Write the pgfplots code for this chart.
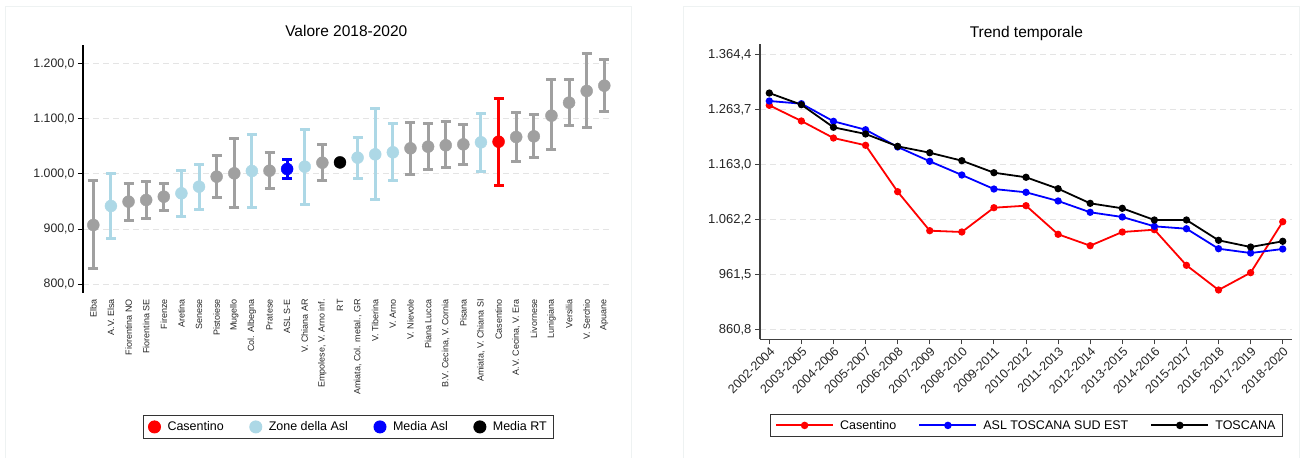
\documentclass[border=0pt]{standalone}
\usepackage{fontspec}
\setmainfont{Liberation Sans}
\usepackage{pgfplots}
\pgfplotsset{compat=1.18}
\definecolor{grp}{HTML}{A0A0A0}
\definecolor{lblue}{HTML}{ADD8E6}
\definecolor{panel}{HTML}{EEF2F2}
\definecolor{gridc}{HTML}{E4E4E4}
\pgfplotsset{every axis title shift=0pt}
\begin{document}
\begin{tikzpicture}[x=1pt,y=1pt]
\useasboundingbox (0,0) rectangle (1302,458);
\draw[panel, line width=1pt] (5,-3) rectangle (631,451);
\draw[panel, line width=1pt] (683,-3) rectangle (1299,451);
% ---------------- left chart
\begin{axis}[
 at={(83pt,165pt)}, anchor=south west, scale only axis,
 width=528.7pt, height=248pt,
 xmin=-0.585, xmax=29.42, ymin=784.4, ymax=1233.7,
 axis lines*=left, axis line style={-, black, line width=1.2pt},
 x axis line style={draw=none},
 xtick={0,...,29}, xtick style={draw=none},
 xticklabels={Elba,A.V. Elsa,Fiorentina NO,Fiorentina SE,Firenze,Aretina,Senese,Pistoiese,Mugello,Col. Albegna,Pratese,ASL S-E,V. Chiana AR,{Empolese, V. Arno inf.},RT,{Amiata, Col. metal., GR},V. Tiberina,V. Arno,V. Nievole,Piana Lucca,{B.V. Cecina, V. Cornia},Pisana,{Amiata, V. Chiana SI},Casentino,{A.V. Cecina, V. Era},Livornese,Lunigiana,Versilia,V. Serchio,Apuane},
 xticklabel style={rotate=90, anchor=east, font=\fontsize{9}{9}\selectfont, inner sep=1pt, text=black!85},
 ytick={800,900,1000,1100,1200},
 yticklabels={{800,0},{900,0},{1.000,0},{1.100,0},{1.200,0}},
 yticklabel style={font=\fontsize{12.3}{13}\selectfont, text=black!85},
 tick align=outside, major tick length=5pt, ytick style={black, line width=1pt},
 ymajorgrids, grid style={gridc, dash pattern=on 6pt off 4pt, line width=1pt},
 title={Valore 2018-2020},
 title style={at={(0.498,1.0323)}, anchor=base, font=\fontsize{15.5}{16}\selectfont},
 legend columns=4,
 legend style={at={(0.5025,-0.540)}, anchor=center, draw=black!80, line width=1pt,
   font=\fontsize{12.5}{13}\selectfont, inner xsep=5pt, inner ysep=4pt,
   /tikz/every odd column/.append style={column sep=5pt},
   /tikz/every even column/.append style={column sep=24pt}},
 clip=false,
]
\addlegendimage{only marks, mark=*, mark size=6pt, red}
\addlegendentry{Casentino}
\addlegendimage{only marks, mark=*, mark size=6pt, lblue}
\addlegendentry{Zone della Asl}
\addlegendimage{only marks, mark=*, mark size=6pt, blue}
\addlegendentry{Media Asl}
\addlegendimage{only marks, mark=*, mark size=6pt, black}
\addlegendentry{Media RT}
% grey zones
\addplot[forget plot, only marks, mark=*, mark size=6pt, color=grp,
  error bars/.cd, y dir=both, y explicit,
  error bar style={line width=3pt, grp},
  error mark options={rotate=90, grp, line width=3pt, mark size=5pt}]
 table[x=x, y=y, y error plus=ep, y error minus=em] {
x y ep em
0 907.6 81.5 78.5
2 949.9 33.0 34.4
3 952.9 34.4 34.4
4 958.9 24.0 25.3
7 995.2 37.4 38.1
8 1001.2 62.8 61.6
10 1006.0 33.3 32.6
13 1020.5 33.2 32.5
18 1046.5 46.5 47.1
19 1049.5 41.1 40.5
20 1052.0 42.2 40.0
21 1053.7 36.3 35.7
24 1067.0 44.7 44.7
25 1068.2 38.7 38.0
26 1105.7 64.6 62.2
27 1129.2 42.3 42.2
28 1150.4 67.6 66.4
29 1160.0 47.7 47.1
};
% light blue zones of the Asl
\addplot[forget plot, only marks, mark=*, mark size=6pt, color=lblue,
  error bars/.cd, y dir=both, y explicit,
  error bar style={line width=3pt, lblue},
  error mark options={rotate=90, lblue, line width=3pt, mark size=5pt}]
 table[x=x, y=y, y error plus=ep, y error minus=em] {
x y ep em
1 942.0 59.0 59.2
5 965.0 42.0 42.3
6 977.0 41.0 42.2
9 1005.4 65.3 65.8
12 1013.3 68.2 68.3
15 1029.6 36.2 37.6
16 1035.6 83.4 82.7
17 1039.3 52.5 51.3
22 1057.4 52.6 53.2
};
% Media Asl
\addplot[forget plot, only marks, mark=*, mark size=6pt, color=blue,
  error bars/.cd, y dir=both, y explicit,
  error bar style={line width=3pt, blue},
  error mark options={rotate=90, blue, line width=3pt, mark size=5pt}]
 table[x=x, y=y, y error plus=ep, y error minus=em] {
x y ep em
11 1009.0 16.4 18.0
};
% Media RT
\addplot[forget plot, only marks, mark=*, mark size=6pt, color=black]
 table[x=x, y=y] {
x y
14 1021.0
};
% Casentino
\addplot[forget plot, only marks, mark=*, mark size=6pt, color=red,
  error bars/.cd, y dir=both, y explicit,
  error bar style={line width=3pt, red},
  error mark options={rotate=90, red, line width=3pt, mark size=5pt}]
 table[x=x, y=y, y error plus=ep, y error minus=em] {
x y ep em
23 1058.5 78.5 78.5
};
\end{axis}
% ---------------- right chart
\begin{axis}[
 at={(760pt,118.7pt)}, anchor=south west, scale only axis,
 width=531.7pt, height=295.3pt,
 xmin=-0.29, xmax=16.28, ymin=842.5, ymax=1383.3,
 axis lines*=left, axis line style={-, black!75, line width=1.2pt},
 xtick={0,...,16},
 xticklabels={2002-2004,2003-2005,2004-2006,2005-2007,2006-2008,2007-2009,2008-2010,2009-2011,2010-2012,2011-2013,2012-2014,2013-2015,2014-2016,2015-2017,2016-2018,2017-2019,2018-2020},
 xticklabel style={rotate=45, anchor=north east, font=\fontsize{12.5}{13}\selectfont, inner sep=1pt, text=black!85},
 ytick={860.8,961.5,1062.2,1163.0,1263.7,1364.4},
 yticklabels={{860,8},{961,5},{1.062,2},{1.163,0},{1.263,7},{1.364,4}},
 yticklabel style={font=\fontsize{13}{13}\selectfont, text=black!85},
 tick align=outside, major tick length=5pt, tick style={black!75, line width=1pt},
 ymajorgrids, grid style={gridc, dash pattern=on 6pt off 4pt, line width=1pt},
 title={Trend temporale},
 title style={at={(0.5009,1.0237)}, anchor=base, font=\fontsize{15.5}{16}\selectfont},
 legend columns=3,
 legend style={at={(0.5009,-0.2916)}, anchor=center, draw=black!80, line width=1pt,
   font=\fontsize{12.5}{13}\selectfont, inner xsep=5pt, inner ysep=4pt,
   /tikz/every odd column/.append style={column sep=4pt},
   /tikz/every even column/.append style={column sep=20pt}},
 legend image code/.code={\draw[mark repeat=2, mark phase=2, #1] plot coordinates {(0pt,0pt) (28.5pt,0pt) (57pt,0pt)};},
 legend image post style={line width=2pt},
 clip=false,
]
\addplot[red, line width=1.8pt, mark=*, mark size=2.7pt] coordinates {
(0,1271.0) (1,1242.3) (2,1211.1) (3,1197.8) (4,1112.8) (5,1041.4) (6,1039.0) (7,1083.5) (8,1087.2) (9,1034.8) (10,1013.9) (11,1039.0) (12,1043.2) (13,978.0) (14,932.8) (15,964.5) (16,1057.8)};
\addlegendentry{Casentino}
\addplot[blue, line width=1.8pt, mark=*, mark size=2.7pt] coordinates {
(0,1278.9) (1,1274.0) (2,1241.7) (3,1226.3) (4,1194.7) (5,1168.5) (6,1143.4) (7,1117.7) (8,1111.7) (9,1095.8) (10,1075.1) (11,1066.5) (12,1049.4) (13,1045.0) (14,1008.4) (15,1000.5) (16,1007.9)};
\addlegendentry{ASL TOSCANA SUD EST}
\addplot[black, line width=1.8pt, mark=*, mark size=2.7pt] coordinates {
(0,1293.5) (1,1272.1) (2,1230.7) (3,1218.5) (4,1195.9) (5,1184.2) (6,1169.6) (7,1147.6) (8,1139.2) (9,1118.3) (10,1091.5) (11,1082.4) (12,1061.0) (13,1061.0) (14,1023.8) (15,1011.5) (16,1022.0)};
\addlegendentry{TOSCANA}
\end{axis}
\end{tikzpicture}
\end{document}
